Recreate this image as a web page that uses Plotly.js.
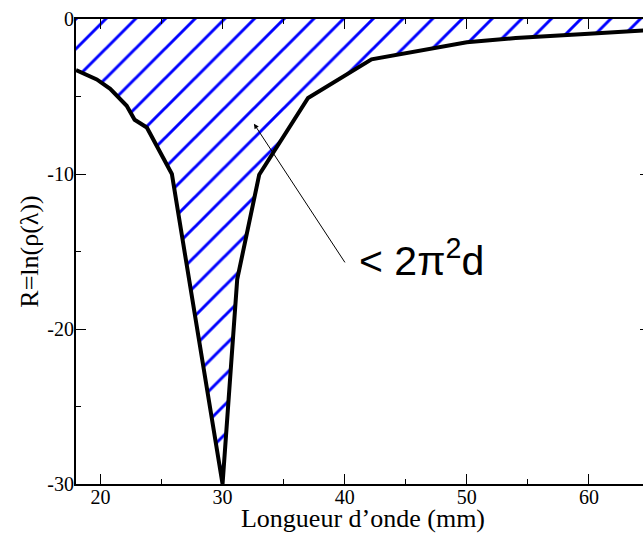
<!DOCTYPE html>
<html>
<head>
<meta charset="utf-8">
<script src="https://cdn.plot.ly/plotly-3.0.1.min.js"></script>
<style>
html,body{margin:0;padding:0;overflow:hidden;background:#fff;}
#plot{width:650px;height:533px;}
#plot .xtick text, #plot .ytick text, #plot .xtitle, #plot .ytitle {font-family: "Liberation Serif", "Times New Roman", serif !important;}
</style>
</head>
<body>
<div id="plot"></div>
<script>
// wavelength (mm)
var wavelength = [18, 19.7, 20.8, 22.15, 22.8, 23.8, 25.85, 30, 31.2, 33, 37, 42.2, 50, 54, 60, 65];
// R = ln(rho(lambda))
var R = [-3.3, -3.9, -4.5, -5.6, -6.5, -7.0, -10, -30, -16.8, -10.05, -5.1, -2.6, -1.5, -1.23, -0.95, -0.72];

var xTickVals = [20, 30, 40, 50, 60];
var xTickText = ['20', '30', '40', '50', '60'];
var yTickVals = [0, -10, -20, -30];
var yTickText = ['0', '-10', '-20', '-30'];

var arrowHead = {x: 32.57, y: -6.76};
var arrowTail = {x: 40.1, y: -15.8};
var labelPos = {x: 46.3, y: -15.45};
var labelText = '&lt; 2π<sup>2</sup>d';

var trace = {
  x: wavelength,
  y: R,
  mode: 'lines',
  type: 'scatter',
  line: {color: '#000000', width: 4},
  fill: 'tozeroy',
  fillcolor: 'rgba(0,0,0,0)',
  fillpattern: {shape: '/', fgcolor: '#0000ff', bgcolor: '#ffffff', size: 21, solidity: 0.14},
  hoverinfo: 'skip',
  showlegend: false
};

var serif = '"Liberation Serif", "Times New Roman", serif';

var layout = {
  width: 650,
  height: 533,
  margin: {l: 76, r: 0, t: 19, b: 49},
  paper_bgcolor: '#ffffff',
  plot_bgcolor: '#ffffff',
  font: {family: serif, size: 20, color: '#000'},
  showlegend: false,
  xaxis: {
    range: [18, 65],
    tickvals: xTickVals,
    ticktext: xTickText,
    ticks: 'inside',
    ticklen: 10,
    tickwidth: 1,
    tickcolor: '#000',
    ticklabelstandoff: -6,
    minor: {dtick: 5, tick0: 0, ticks: 'inside', ticklen: 5, tickwidth: 1, tickcolor: '#000'},
    showline: true,
    linecolor: '#000',
    linewidth: 2,
    mirror: 'ticks',
    showgrid: false,
    zeroline: false,
    tickfont: {family: serif, size: 20, color: '#000'},
    title: {text: 'Longueur d’onde (mm)', font: {family: serif, size: 26, color: '#000'}, standoff: 2}
  },
  yaxis: {
    range: [-30, 0],
    tickvals: yTickVals,
    ticktext: yTickText,
    ticks: 'inside',
    ticklen: 10,
    tickwidth: 1,
    tickcolor: '#000',
    ticklabelstandoff: -4,
    minor: {dtick: 5, tick0: 0, ticks: 'inside', ticklen: 5, tickwidth: 1, tickcolor: '#000'},
    showline: true,
    linecolor: '#000',
    linewidth: 2,
    mirror: 'ticks',
    showgrid: false,
    zeroline: false,
    tickfont: {family: serif, size: 20, color: '#000'},
    title: {text: 'R=ln(ρ(λ))', font: {family: serif, size: 26, color: '#000'}, standoff: 1}
  },
  annotations: [
    {
      x: arrowHead.x, y: arrowHead.y, xref: 'x', yref: 'y',
      ax: arrowTail.x, ay: arrowTail.y, axref: 'x', ayref: 'y',
      text: '', showarrow: true, arrowhead: 2, arrowsize: 1, arrowwidth: 1, arrowcolor: '#000'
    },
    {
      x: labelPos.x, y: labelPos.y, xref: 'x', yref: 'y',
      text: labelText, showarrow: false,
      font: {family: '"Liberation Sans", Arial, sans-serif', size: 41, color: '#000'}
    }
  ]
};

Plotly.newPlot('plot', [trace], layout, {staticPlot: true, displayModeBar: false});
</script>
</body>
</html>
